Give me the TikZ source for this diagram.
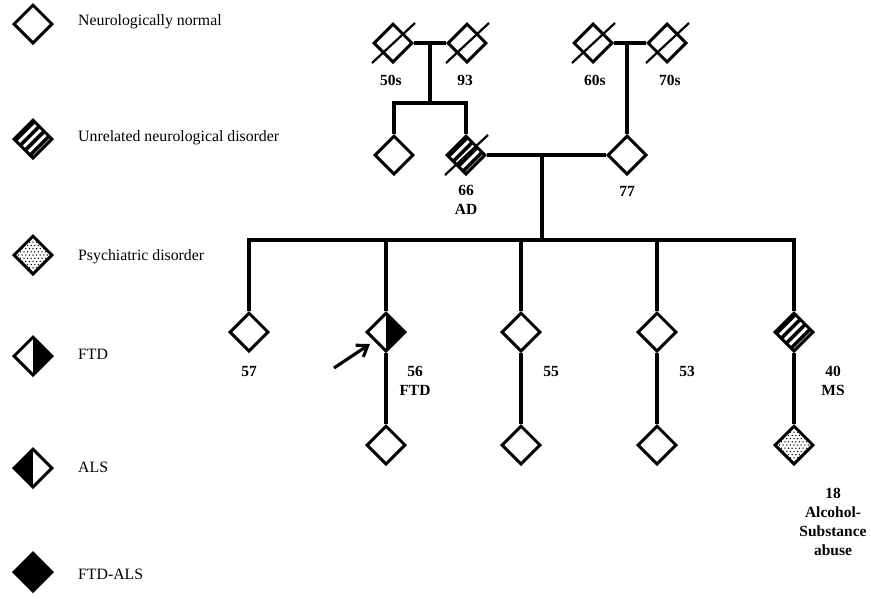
\documentclass[tikz,border=0pt]{standalone}
\usepackage{fontspec}
\setmainfont{Liberation Serif}
\usetikzlibrary{shapes.geometric,arrows.meta}
\tikzset{
  ind/.style={diamond, draw, line width=3pt, minimum width=39pt, minimum height=39pt, inner sep=0pt, aspect=1, fill=white},
  ftd/.style={ind, path picture={\fill[black] (path picture bounding box.north) rectangle (path picture bounding box.south east);}},
  als/.style={ind, path picture={\fill[black] (path picture bounding box.south west) rectangle (path picture bounding box.north);}},
  ftdals/.style={ind, fill=black},
  psych/.style={ind, path picture={
    \foreach \i in {-6,...,6}{\foreach \j in {-6,-4,...,6}{\fill[black] ([shift={(\i*3.6,\j*3.2)}]path picture bounding box.center) circle[radius=0.75pt];}}
    \foreach \i in {-6,...,6}{\foreach \j in {-5,-3,...,5}{\fill[black] ([shift={(\i*3.6+1.8,\j*3.2)}]path picture bounding box.center) circle[radius=0.75pt];}}
  }},
  hatch/.style={ind, path picture={\foreach \t in {-11.5,-4.5,2.5,9.5}{\draw[black, line width=3.6pt] ([shift={(\t*0.7071-30,\t*0.7071+30)}]path picture bounding box.center) -- ([shift={(\t*0.7071+30,\t*0.7071-30)}]path picture bounding box.center);}}},
  conn/.style={line width=3.1pt},
  strike/.style={line width=2.2pt},
  lab/.style={font=\fontsize{15.5}{19}\selectfont\bfseries, align=center, inner sep=0pt},
  legtxt/.style={font=\fontsize{15.8}{19}\selectfont, anchor=west, inner sep=0pt}
}
\begin{document}
\begin{tikzpicture}[x=1pt,y=-1pt]
\useasboundingbox (0,0) rectangle (871,598);
% legend
\node[ind] (l1) at (33,24) {};
\node[legtxt] (t1) at (78,22) {Neurologically normal};
\node[hatch] (l2) at (33,139) {};
\node[legtxt] (t2) at (78,138) {Unrelated neurological disorder};
\node[psych] (l3) at (33,255) {};
\node[legtxt] (t3) at (78,257) {Psychiatric disorder};
\node[ftd] (l4) at (33,356) {};
\node[legtxt] (t4) at (78,354) {FTD};
\node[als] (l5) at (33,468) {};
\node[legtxt] (t5) at (78,467) {ALS};
\node[ftdals] (l6) at (33,572) {};
\node[legtxt] (t6) at (78,574) {FTD-ALS};

% generation I
\node[ind] (g1a) at (393,43) {};
\node[ind] (g1b) at (467,43) {};
\node[ind] (g1c) at (593,43) {};
\node[ind] (g1d) at (667,43) {};
\foreach \n in {g1a,g1b,g1c,g1d}{
  \draw[strike] ([shift={(-21,20)}]\n.center) -- ([shift={(22,-20)}]\n.center);
}
\node[lab] (la) at (391,80) {50s};
\node[lab] (lb) at (465,80) {93};
\node[lab] (lc) at (595,80) {60s};
\node[lab] (ld) at (670,80) {70s};

% generation II
\node[ind] (g2a) at (394,155) {};
\node[hatch] (g2b) at (466,155) {};
\draw[strike] ([shift={(-21,20)}]g2b.center) -- ([shift={(22,-20)}]g2b.center);
\node[ind] (g2c) at (627,155) {};
\node[lab] (l66) at (466,200) {66\\AD};
\node[lab] (l77) at (627,191) {77};

\coordinate (c1) at (430,43);
\coordinate (c1b) at (430,103);
\coordinate (s1a) at (394,103);
\coordinate (s1b) at (466,103);
\draw[conn] (g1a.east) -- (g1b.west);
\draw[conn] (c1) -- (c1b);
\draw[conn] (g2a.north) -- (s1a) -- (s1b) -- (g2b.north);
\coordinate (c2) at (627,43);
\draw[conn] (g1c.east) -- (g1d.west);
\draw[conn] (c2) -- (g2c.north);
\draw[conn] (g2b.east) -- (g2c.west);
\coordinate (c3) at (542,155);
\coordinate (c3b) at (542,240);
\draw[conn] (c3) -- (c3b);

% generation III
\node[ind] (g3a) at (249,332) {};
\node[ftd] (g3b) at (386,332) {};
\node[ind] (g3c) at (521,332) {};
\node[ind] (g3d) at (657,332) {};
\node[hatch] (g3e) at (794,332) {};
\coordinate (s3a) at (249,240);
\coordinate (s3b) at (386,240);
\coordinate (s3c) at (521,240);
\coordinate (s3d) at (657,240);
\coordinate (s3e) at (794,240);
\draw[conn, line cap=rect] (s3a) -- (s3e);
\draw[conn] (s3a) -- (g3a.north);
\draw[conn] (s3b) -- (g3b.north);
\draw[conn] (s3c) -- (g3c.north);
\draw[conn] (s3d) -- (g3d.north);
\draw[conn] (s3e) -- (g3e.north);
\node[lab] (l57) at (249,371) {57};
\node[lab] (l56) at (415,380.5) {56\\FTD};
\node[lab] (l55) at (551,371) {55};
\node[lab] (l53) at (687,371) {53};
\node[lab] (l40) at (833,380.5) {40\\MS};

% generation IV
\node[ind] (g4b) at (386,445) {};
\node[ind] (g4c) at (521,445) {};
\node[ind] (g4d) at (657,445) {};
\node[psych] (g4e) at (794,445) {};
\draw[conn] (g3b.south) -- (g4b.north);
\draw[conn] (g3c.south) -- (g4c.north);
\draw[conn] (g3d.south) -- (g4d.north);
\draw[conn] (g3e.south) -- (g4e.north);
\node[lab] (l18) at (833,522) {18\\Alcohol-\\Substance\\abuse};

% proband arrow
\coordinate (pa) at (334,368);
\draw[conn, -{Straight Barb[length=10pt,width=14pt]}] (pa) -- ([shift={(-16,12)}]g3b.center);
\end{tikzpicture}
\end{document}
